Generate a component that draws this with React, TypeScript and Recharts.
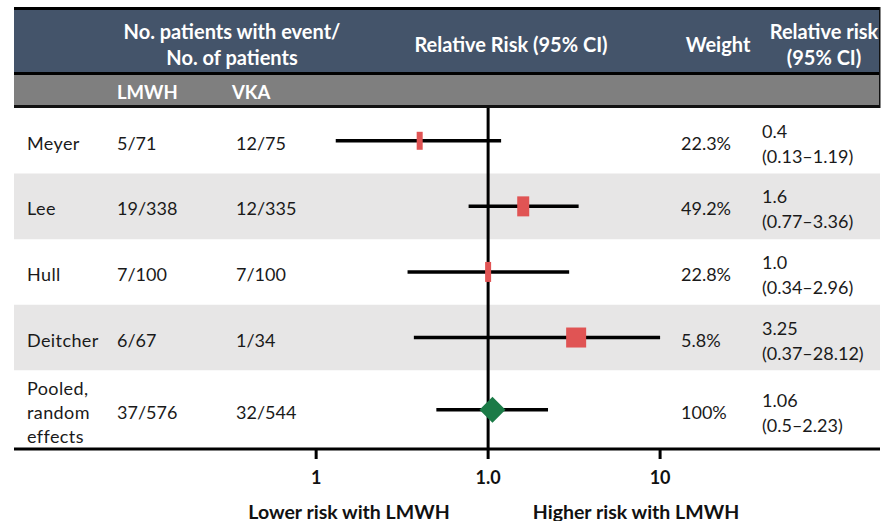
import React from 'react';
import { ScatterChart, Scatter, XAxis, YAxis, ReferenceLine, ReferenceArea } from 'recharts';

// ---------- data ----------
const studies = ['Meyer', 'Lee', 'Hull', 'Deitcher', 'Pooled, random effects'];
const lmwhEvents = ['5/71', '19/338', '7/100', '6/67', '37/576'];
const vkaEvents = ['12/75', '12/335', '7/100', '1/34', '32/544'];
const relRisk = [0.4, 1.6, 1.0, 3.25, 1.06];
const relRiskLabels = ['0.4', '1.6', '1.0', '3.25', '1.06'];
const ciLow = [0.13, 0.77, 0.34, 0.37, 0.5];
const ciHigh = [1.19, 3.36, 2.96, 28.12, 2.23];
const weights = ['22.3%', '49.2%', '22.8%', '5.8%', '100%'];
const xTicks = [0.1, 1, 10];
const xTickLabels = ['1', '1.0', '10'];

// ---------- style / layout ----------
const W = 883;
const H = 521;
const FONT = 'Lato, "Open Sans", sans-serif';
const X_MIN = 0.00175;
const X_MAX = 190;
const CI_CAP = 10;
const boxSizes = [
  [6, 18],
  [12, 20],
  [6, 20],
  [20, 20],
];
const DIAMOND = 13;
const RED = '#E05454';
const GREEN = '#1B7B47';
const BLUE = '#44546A';
const GRAY = '#7F7F7F';
const BAND = '#E7E6E6';
const TEXT = '#1a1a1a';
const COL = { study: 27, lmwh: 117, vka: 236, weight: 681, rr: 762 };

const rows = studies.map((s, i) => ({
  idx: i,
  study: s,
  lmwh: lmwhEvents[i],
  vka: vkaEvents[i],
  rr: relRisk[i],
  lo: ciLow[i],
  hi: Math.min(ciHigh[i], CI_CAP),
  weight: weights[i],
  rrLabel: relRiskLabels[i],
  ciLabel: `(${ciLow[i]}\u2013${ciHigh[i]})`,
  row: i < 4 ? i + 0.5 : 4.6,
}));

const MarkerShape = (props: any) => {
  const { cx, cy, payload } = props;
  if (cx == null || cy == null) return null;
  const i = payload.idx;
  if (i === 4) {
    return (
      <polygon
        points={`${cx},${cy - DIAMOND} ${cx + DIAMOND},${cy} ${cx},${cy + DIAMOND} ${cx - DIAMOND},${cy}`}
        fill={GREEN}
      />
    );
  }
  const [w, h] = boxSizes[i];
  return <rect x={cx - w / 2} y={cy - h / 2} width={w} height={h} fill={RED} />;
};

const TextShape = (props: any) => {
  const { cy, payload } = props;
  if (cy == null) return null;
  const ts = { fontFamily: FONT, fontSize: 18, fill: TEXT };
  const lines = payload.study.split(' ');
  const lh = 24;
  const startY = cy + 2 - ((lines.length - 1) * lh) / 2;
  return (
    <g>
      {lines.map((l: string, k: number) => (
        <text key={k} x={COL.study} y={startY + k * lh} dominantBaseline="central" style={{ ...ts, letterSpacing: 0.4 }}>
          {l}
        </text>
      ))}
      <text x={COL.lmwh} y={cy + 2} dominantBaseline="central" style={ts}>{payload.lmwh}</text>
      <text x={COL.vka} y={cy + 2} dominantBaseline="central" style={ts}>{payload.vka}</text>
      <text x={COL.weight} y={cy + 2} dominantBaseline="central" style={ts}>{payload.weight}</text>
      <text x={COL.rr} y={cy - 10} dominantBaseline="central" style={ts}>{payload.rrLabel}</text>
      <text x={COL.rr} y={cy + 15} dominantBaseline="central" style={ts}>{payload.ciLabel}</text>
    </g>
  );
};

export default function App() {
  const hs = { fontFamily: FONT, fontSize: 20, fontWeight: 700, fill: '#ffffff' } as const;
  const ss = { fontFamily: FONT, fontSize: 18.5, fontWeight: 700, fill: '#ffffff' } as const;
  const ls = { fontFamily: FONT, fontSize: 19.5, fontWeight: 700, fill: '#111111' } as const;
  return (
    <div style={{ position: 'absolute', left: 0, top: 0, width: W, height: H, background: '#fff' }}>
      <ScatterChart width={W} height={H} margin={{ top: 108, right: 3, bottom: 42, left: 14 }}>
        <XAxis
          type="number"
          dataKey="rr"
          scale="log"
          domain={[X_MIN, X_MAX]}
          allowDataOverflow
          ticks={xTicks}
          interval={0}
          tickFormatter={(v: number) => {
            const k = xTicks.indexOf(v);
            return k >= 0 ? xTickLabels[k] : String(v);
          }}
          height={30}
          axisLine={{ stroke: '#000', strokeWidth: 3 }}
          tickLine={{ stroke: '#000', strokeWidth: 3 }}
          tickSize={10}
          tickMargin={12}
          tick={{ fill: '#111', fontSize: 18, fontWeight: 700, fontFamily: FONT }}
        />
        <YAxis type="number" dataKey="row" domain={[0, 5.2]} reversed hide allowDataOverflow />
        <ReferenceArea y1={1} y2={2} fill={BAND} fillOpacity={1} stroke="none" />
        <ReferenceArea y1={3} y2={4} fill={BAND} fillOpacity={1} stroke="none" />
        <ReferenceLine x={1} stroke="#000" strokeWidth={3} />
        {rows.map((r) => (
          <ReferenceLine
            key={r.idx}
            segment={[
              { x: r.lo, y: r.row },
              { x: r.hi, y: r.row },
            ]}
            stroke="#000"
            strokeWidth={3.5}
          />
        ))}
        <Scatter data={rows} shape={TextShape} isAnimationActive={false} />
        <Scatter data={rows} shape={MarkerShape} isAnimationActive={false} />
      </ScatterChart>
      <svg
        width={W}
        height={H}
        style={{ position: 'absolute', left: 0, top: 0, pointerEvents: 'none' }}
      >
        <rect x={14} y={7} width={866} height={3} fill="#000" />
        <rect x={14} y={10} width={866} height={62} fill={BLUE} />
        <rect x={14} y={72} width={866} height={3} fill="#000" />
        <rect x={14} y={75} width={866} height={30} fill={GRAY} />
        <rect x={14} y={105} width={866} height={3} fill="#111" />
        <rect x={879} y={7} width={1.5} height={101} fill="#111" />
        <text x={232} y={31} textAnchor="middle" dominantBaseline="central" style={hs}>
          No. patients with event/
        </text>
        <text x={232} y={57} textAnchor="middle" dominantBaseline="central" style={hs}>
          No. of patients
        </text>
        <text x={511} y={44} textAnchor="middle" dominantBaseline="central" style={hs}>
          Relative Risk (95% CI)
        </text>
        <text x={718} y={44} textAnchor="middle" dominantBaseline="central" style={hs}>
          Weight
        </text>
        <text x={824} y={31} textAnchor="middle" dominantBaseline="central" style={hs}>
          Relative risk
        </text>
        <text x={824} y={57} textAnchor="middle" dominantBaseline="central" style={hs}>
          (95% CI)
        </text>
        <text x={117} y={92} dominantBaseline="central" style={ss}>LMWH</text>
        <text x={232} y={92} dominantBaseline="central" style={ss}>VKA</text>
        <text x={349} y={511} textAnchor="middle" dominantBaseline="central" style={ls}>
          Lower risk with LMWH
        </text>
        <text x={636} y={511} textAnchor="middle" dominantBaseline="central" style={ls}>
          Higher risk with LMWH
        </text>
      </svg>
    </div>
  );
}
